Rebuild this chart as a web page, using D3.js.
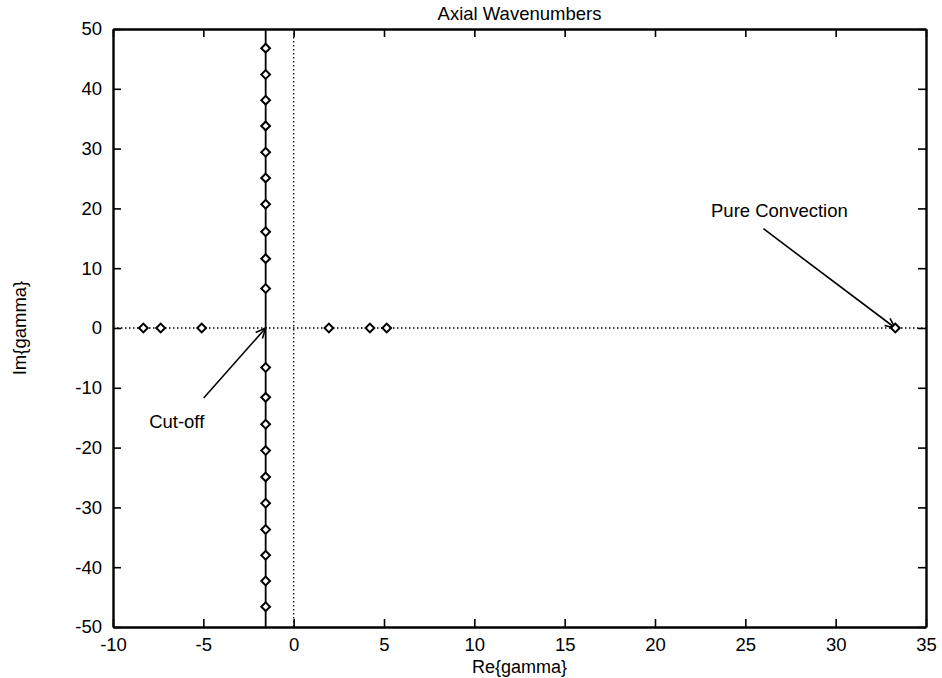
<!DOCTYPE html>
<html>
<head>
<meta charset="utf-8">
<script src="https://cdn.jsdelivr.net/npm/d3@7"></script>
<style>
	body { margin: 0; background: #fff; }
	text { font-family: "Liberation Sans", Arial, Helvetica, sans-serif; fill: #000; }
	.axis text { font-size: 18.5px; }
	.axis path, .axis line { stroke: #000; }
</style>
</head>
<body>
<script>
// real part of the cut-off line, and imaginary parts of the modes sitting on it
var cutoffRe = -1.55;
var cutoffIm = [46.8, 42.4, 38.1, 33.8, 29.4, 25.1, 20.7, 16.1, 11.6, 6.6,
	-6.6, -11.6, -16.1, -20.5, -24.9, -29.3, -33.7, -38.0, -42.3, -46.6];
// purely real wavenumbers on the Im = 0 axis
var realRe = [-8.32, -7.36, -5.09, 1.95, 4.22, 5.15, 33.3];

var xTicks = [-10, -5, 0, 5, 10, 15, 20, 25, 30, 35];
var yTicks = [-50, -40, -30, -20, -10, 0, 10, 20, 30, 40, 50];

// annotations in data units: label position, arrow tail, arrow head
var labels = [
	{ text: 'Cut-off', lx: -8.0, ly: -15.6, tx: -4.98, ty: -11.7, hx: cutoffRe, hy: 0 },
	{ text: 'Pure Convection', lx: 23.1, ly: 19.6, tx: 26.0, ty: 16.6, hx: 33.3, hy: 0 }
];

var width = 942, height = 678;
var plotLeft = 113, plotRight = 926, plotTop = 29, plotBottom = 627;

var x = d3.scaleLinear().domain([-10, 35]).range([plotLeft, plotRight]);
var y = d3.scaleLinear().domain([-50, 50]).range([plotBottom, plotTop]);
var fmt = function(d) { return String(d); };

var svg = d3.select('body')
	.append('svg')
	.attr('width', width)
	.attr('height', height);

svg.append('defs').append('marker')
	.attr('id', 'head')
	.attr('viewBox', '0 0 12 12')
	.attr('refX', 11)
	.attr('refY', 6)
	.attr('markerWidth', 12)
	.attr('markerHeight', 12)
	.attr('markerUnits', 'userSpaceOnUse')
	.attr('orient', 'auto')
	.append('path')
	.attr('d', 'M1,1.5 L11,6 L1,10.5')
	.attr('fill', 'none')
	.attr('stroke', '#000')
	.attr('stroke-width', 1.6);

// zero lines, dotted
svg.append('line')
	.attr('x1', x(-10)).attr('x2', x(35))
	.attr('y1', y(0)).attr('y2', y(0))
	.attr('stroke', '#000')
	.attr('stroke-width', 1.3)
	.attr('stroke-dasharray', '1.5,2.5');

svg.append('line')
	.attr('x1', x(0)).attr('x2', x(0))
	.attr('y1', y(50)).attr('y2', y(-50))
	.attr('stroke', '#000')
	.attr('stroke-width', 1.3)
	.attr('stroke-dasharray', '1.5,2.5');

// cut-off line
svg.append('line')
	.attr('x1', x(cutoffRe)).attr('x2', x(cutoffRe))
	.attr('y1', y(50)).attr('y2', y(-50))
	.attr('stroke', '#000')
	.attr('stroke-width', 1.8);

// axes, gnuplot style: ticks inward and mirrored
svg.append('g')
	.attr('class', 'axis')
	.attr('transform', 'translate(0,' + plotBottom + ')')
	.call(d3.axisBottom(x).tickValues(xTicks).tickFormat(fmt).tickSize(-8).tickSizeOuter(0).tickPadding(11));

svg.append('g')
	.attr('class', 'axis')
	.attr('transform', 'translate(' + plotLeft + ',0)')
	.call(d3.axisLeft(y).tickValues(yTicks).tickFormat(fmt).tickSize(-8).tickSizeOuter(0).tickPadding(11));

svg.append('g')
	.attr('class', 'axis')
	.attr('transform', 'translate(0,' + plotTop + ')')
	.call(d3.axisTop(x).tickValues(xTicks).tickSize(-8).tickSizeOuter(0).tickFormat(''));

svg.append('g')
	.attr('class', 'axis')
	.attr('transform', 'translate(' + plotRight + ',0)')
	.call(d3.axisRight(y).tickValues(yTicks).tickSize(-8).tickSizeOuter(0).tickFormat(''));

svg.selectAll('.axis path').attr('stroke-width', 2.4);
svg.selectAll('.axis line').attr('stroke-width', 1.6);

// annotation arrows
svg.selectAll('line.arrow')
	.data(labels)
	.enter()
	.append('line')
	.attr('class', 'arrow')
	.attr('x1', function(d) { return x(d.tx); })
	.attr('y1', function(d) { return y(d.ty); })
	.attr('x2', function(d) { return x(d.hx); })
	.attr('y2', function(d) { return y(d.hy); })
	.attr('stroke', '#000')
	.attr('stroke-width', 1.6)
	.attr('marker-end', 'url(#head)');

svg.selectAll('text.note')
	.data(labels)
	.enter()
	.append('text')
	.attr('class', 'note')
	.attr('x', function(d) { return x(d.lx); })
	.attr('y', function(d) { return y(d.ly); })
	.attr('dy', '0.35em')
	.attr('font-size', 18.5)
	.text(function(d) { return d.text; });

// diamond markers
var points = cutoffIm.map(function(v) { return [cutoffRe, v]; })
	.concat(realRe.map(function(v) { return [v, 0]; }));

svg.selectAll('path.pt')
	.data(points)
	.enter()
	.append('path')
	.attr('class', 'pt')
	.attr('d', d3.symbol(d3.symbolSquare, 38))
	.attr('transform', function(d) {
		return 'translate(' + x(d[0]) + ',' + y(d[1]) + ') rotate(45)';
	})
	.attr('fill', '#fff')
	.attr('stroke', '#000')
	.attr('stroke-width', 2);

// titles
svg.append('text')
	.attr('x', (plotLeft + plotRight) / 2)
	.attr('y', 14)
	.attr('dy', '0.35em')
	.attr('text-anchor', 'middle')
	.attr('font-size', 18.5)
	.text('Axial Wavenumbers');

svg.append('text')
	.attr('x', (plotLeft + plotRight) / 2)
	.attr('y', 667)
	.attr('dy', '0.35em')
	.attr('text-anchor', 'middle')
	.attr('font-size', 18)
	.text('Re{gamma}');

svg.append('text')
	.attr('transform', 'translate(20,' + y(0) + ') rotate(-90)')
	.attr('dy', '0.35em')
	.attr('text-anchor', 'middle')
	.attr('font-size', 18.5)
	.text('Im{gamma}');
</script>
</body>
</html>
